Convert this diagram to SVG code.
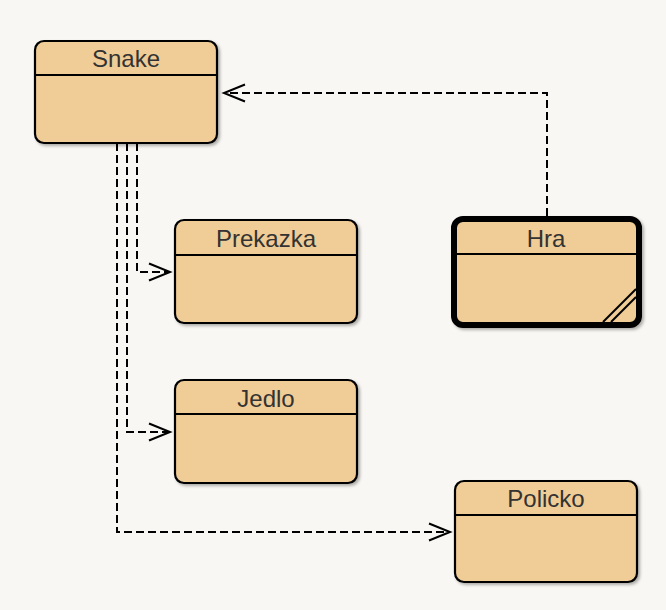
<svg xmlns="http://www.w3.org/2000/svg" width="666" height="610" viewBox="0 0 666 610">
<defs>
<filter id="sh" x="-10%" y="-10%" width="130%" height="130%">
<feDropShadow dx="2" dy="2" stdDeviation="1.5" flood-color="#000" flood-opacity="0.3"/>
</filter>
<marker id="open" markerWidth="26" markerHeight="22" refX="22" refY="11" orient="auto" markerUnits="userSpaceOnUse">
<path d="M1,2.5 L22,11 L1,19.5" fill="none" stroke="#000" stroke-width="2"/>
</marker>
</defs>
<style>
.box{fill:#f0cc96;stroke:#000;stroke-width:2.2}
.hdr{stroke:#000;stroke-width:2}
.t{font-family:"Liberation Sans",Arial,sans-serif;font-size:24px;fill:#333;text-anchor:middle}
.c{fill:none;stroke:#000;stroke-width:2;stroke-dasharray:8,4}
</style>
<rect width="666" height="610" fill="#f8f7f3"/>
<g id="connectors">
<path class="c" d="M547,216 V93 H224" marker-end="url(#open)"/>
<path class="c" d="M137,143 V272 H170" marker-end="url(#open)"/>
<path class="c" d="M127,143 V432 H170" marker-end="url(#open)"/>
<path class="c" d="M117,143 V532 H450" marker-end="url(#open)"/>
</g>
<g id="Snake">
<rect class="box" x="35" y="41" width="182" height="102" rx="9" filter="url(#sh)"/>
<line class="hdr" x1="35" y1="75" x2="217" y2="75"/>
<text class="t" x="126" y="67">Snake</text>
</g>
<g id="Prekazka">
<rect class="box" x="175" y="220" width="182" height="103" rx="9" filter="url(#sh)"/>
<line class="hdr" x1="175" y1="255" x2="357" y2="255"/>
<text class="t" x="266" y="247">Prekazka</text>
</g>
<g id="Hra">
<rect class="box" x="454" y="219" width="185" height="106" rx="9" style="stroke-width:6" filter="url(#sh)"/>
<line class="hdr" x1="454" y1="254" x2="639" y2="254"/>
<line x1="603" y1="322" x2="636" y2="289" stroke="#000" stroke-width="2"/>
<line x1="611" y1="322" x2="636" y2="297" stroke="#000" stroke-width="2"/>
<text class="t" x="546" y="247">Hra</text>
</g>
<g id="Jedlo">
<rect class="box" x="175" y="380" width="182" height="103" rx="9" filter="url(#sh)"/>
<line class="hdr" x1="175" y1="414" x2="357" y2="414"/>
<text class="t" x="266" y="407">Jedlo</text>
</g>
<g id="Policko">
<rect class="box" x="455" y="481" width="182" height="101" rx="9" filter="url(#sh)"/>
<line class="hdr" x1="455" y1="515" x2="637" y2="515"/>
<text class="t" x="546" y="507">Policko</text>
</g>
</svg>
